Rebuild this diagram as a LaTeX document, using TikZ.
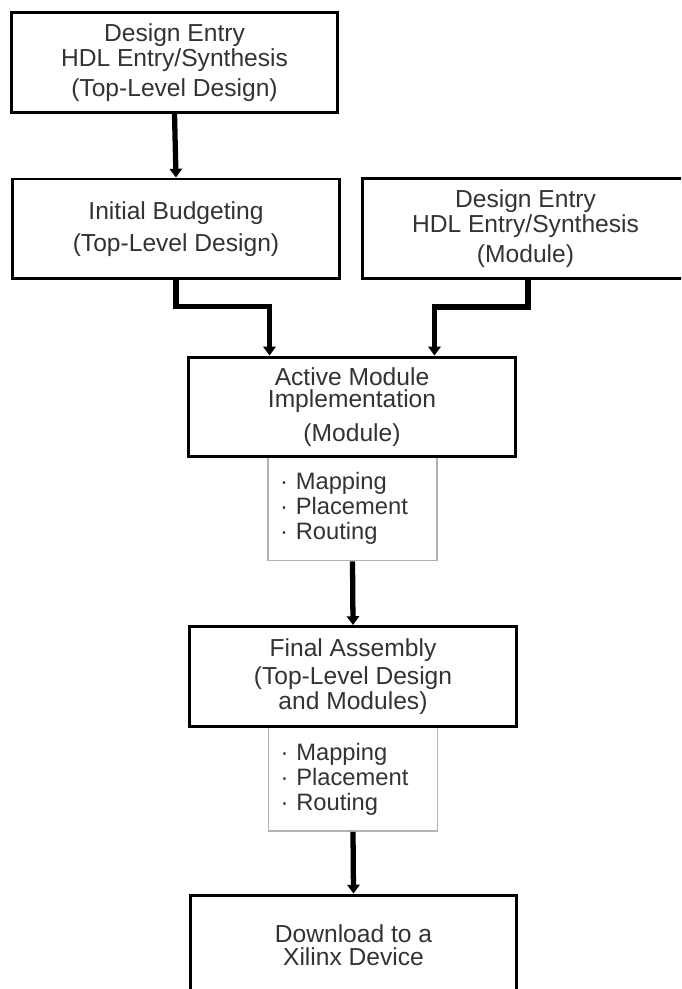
\documentclass[tikz,border=0pt]{standalone}
\usepackage{fontspec}
\setmainfont{Liberation Sans}
\usepackage{tikz}
\usetikzlibrary{arrows.meta, positioning, calc}

\begin{document}
\begin{tikzpicture}[
    x=0.02cm, y=-0.02cm,
    stage/.style={draw, rectangle, line width=1.7pt, minimum width=6.54cm, minimum height=2cm,
                  font=\fontsize{14}{14.2}\selectfont, text=black!80, align=center, fill=white},
    steps/.style={draw=black!30, rectangle, line width=1pt, text width=2.9cm, inner xsep=0.24cm,
                  minimum height=2.08cm, font=\fontsize{13.5}{14.2}\selectfont, text=black!80, align=left},
    arr/.style={-{Triangle[length=5pt, width=7pt]}, line width=3pt}
]
\clip (0,0) rectangle (681,989);
\fill[white] (0,0) rectangle (681,989);

% Sub-steps (drawn first, under the stage borders)
\node[steps] (mapA) at (352.5,508.5) {· Mapping\\· Placement\\· Routing};
\node[steps] (mapB) at (353,779) {· Mapping\\· Placement\\· Routing};

% Stages
\node[stage] (topentry) at (174.5,62.5) {Design Entry\\HDL Entry/Synthesis\\[3pt](Top-Level Design)};
\node[stage] (budget) at (176,229) {Initial Budgeting\\[4pt](Top-Level Design)};
\node[stage] (modentry) at (525.5,228.5) {Design Entry\\HDL Entry/Synthesis\\[3pt](Module)};
\node[stage] (active) at (352,407) {Active Module\\[-1.5pt]Implementation\\[5pt](Module)};
\node[stage] (final) at (353,676.5) {Final Assembly\\[2pt](Top-Level Design\\and Modules)};
\node[stage] (download) at (353.5,945) {Download to a\\[-1pt]Xilinx Device};

% Flow
\draw[arr] (topentry.south) -- (budget.north);
\draw[arr] (budget.south) -- ++(0,26) -| ($(active.north west)!0.25!(active.north east)$);
\draw[arr] ([xshift=0.05cm]modentry.south) -- ++(0,27) -| ($(active.north west)!0.75!(active.north east)$);
\draw[arr] (mapA.south) -- (final.north);
\draw[arr] (mapB.south) -- (download.north);
\end{tikzpicture}
\end{document}
